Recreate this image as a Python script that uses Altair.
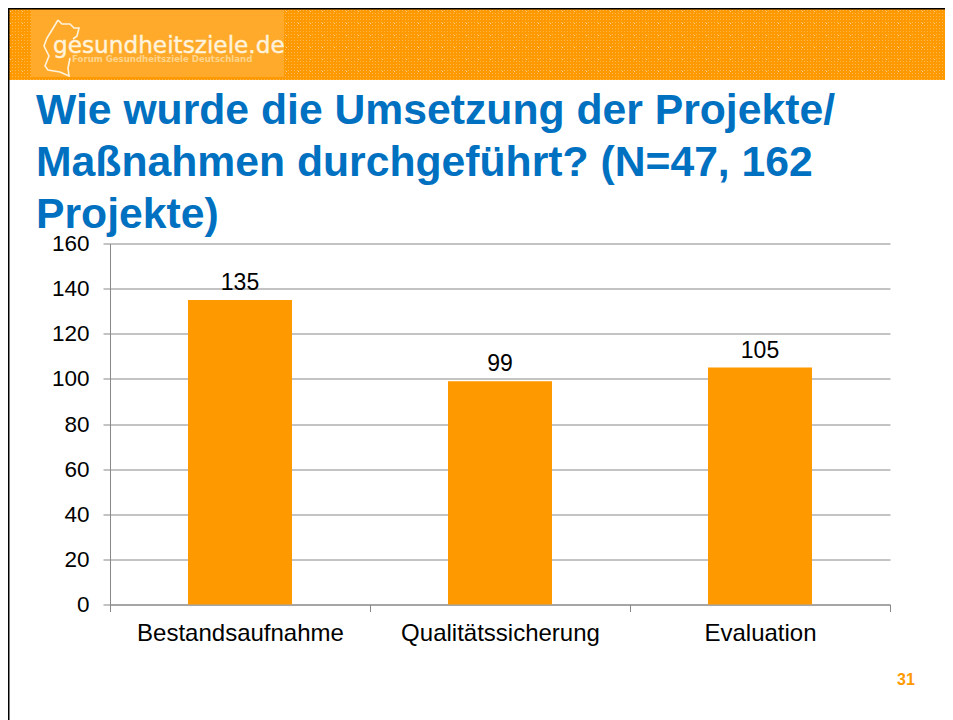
import altair as alt
import pandas as pd

categories = ["Bestandsaufnahme", "Qualitätssicherung", "Evaluation"]
values = [135, 99, 105]
y_ticks = [0, 20, 40, 60, 80, 100, 120, 140, 160]
title_lines = ["Wie wurde die Umsetzung der Projekte/", "Maßnahmen durchgeführt? (N=47, 162", "Projekte)"]
logo_text = "gesundheitsziele.de"
logo_sub = "Forum Gesundheitsziele Deutschland"
page_no = "31"

OX, OY = 110, 243.5
W, H = 780, 361
RIGHT_EDGE = 945
FONT = "Liberation Sans"
GREY = "#888888"
ORANGE = "#FF9900"


def px(v):
    return alt.value(v - OX)


def py(v):
    return alt.value(v - OY)


one = pd.DataFrame({"a": [0]})
df = pd.DataFrame({"cat": categories, "val": values})


def box(x0, x1, y0, y1, color):
    return alt.Chart(one).mark_rect(color=color).encode(x=px(x0), x2=px(x1), y=py(y0), y2=py(y1))


def label(text, x, y, **kw):
    d = pd.DataFrame({"t": [text]})
    return alt.Chart(d).mark_text(**kw).encode(x=px(x), y=py(y), text="t:N")


def dots(x0, x1, y0, y1, step, dot):
    parts = []
    for yy in range(y0, y1, step):
        for xx in range(x0, x1, step):
            parts.append(f"M{xx-OX} {yy-OY}h{dot}v{dot}h-{dot}z")
    return "".join(parts)


def path_mark(path, **kw):
    return alt.Chart(one).mark_point(shape=path, size=4, **kw).encode(x=alt.value(0), y=alt.value(0))


fine = dots(9, RIGHT_EDGE, 10, 80, 3, 1)
coarse = dots(10, RIGHT_EDGE, 11, 80, 12, 1)
germany = [(58, 20), (62, 24), (70, 24), (74, 28), (79, 28), (77, 36), (73, 39)]
germany2 = [(70, 58), (68, 68), (69, 76), (60, 72), (48, 70), (45, 66), (49, 56), (44, 46), (47, 38), (52, 30), (55, 25), (58, 20)]


def poly(pts):
    return "M" + "L".join(f"{a-OX} {b-OY}" for a, b in pts)


layers = [
    box(9, RIGHT_EDGE, 9, 80, ORANGE),
    path_mark(fine, filled=True, color="#FFFFFF", opacity=0.3, strokeWidth=0),
    path_mark(coarse, filled=True, color="#FFFFFF", opacity=0.6, strokeWidth=0),
    box(31, 284, 10, 77, "#FFAA2B"),
    path_mark(poly(germany), filled=False, color="#FFF3DC", strokeWidth=1.6, opacity=1),
    path_mark(poly(germany2), filled=False, color="#FFF3DC", strokeWidth=1.6, opacity=1),
    label(logo_text, 53, 53, font="DejaVu Sans", fontSize=23.2, color="#FFF3DC", stroke="#FFF3DC", strokeWidth=0.4, align="left", baseline="alphabetic"),
    label(logo_sub, 72, 61.5, font="DejaVu Sans", fontSize=8.6, fontWeight="bold", color="#FFD48A", align="left", baseline="alphabetic"),
    alt.Chart(one).mark_rule(color="#000000", strokeWidth=2).encode(x=px(8), x2=px(RIGHT_EDGE), y=py(8.5)),
    alt.Chart(one).mark_rule(color="#000000", strokeWidth=2).encode(x=px(8.5), y=py(8), y2=py(720)),
]
for i, line in enumerate(title_lines):
    layers.append(label(line, 36, 124 + 52 * i, font=FONT, fontSize=42.7, fontWeight="bold", color="#0070C0", align="left", baseline="alphabetic"))

x_enc = alt.X("cat:N", sort=categories, title=None, scale=alt.Scale(paddingInner=0, paddingOuter=0),
              axis=alt.Axis(tickBand="extent", labelAngle=0, labelFont=FONT, labelFontSize=24, labelColor="#000000",
                            labelPadding=10, tickSize=7, tickColor=GREY, domainColor=GREY, grid=False, labelLimit=300))
y_enc = alt.Y("val:Q", title=None, scale=alt.Scale(domain=[0, 160], nice=False),
              axis=alt.Axis(values=y_ticks, labelFont=FONT, labelFontSize=22.5, labelColor="#000000", labelPadding=14,
                            tickSize=7, tickColor=GREY, domainColor=GREY, grid=True, gridColor=GREY, gridOpacity=1))

bars = alt.Chart(df).mark_bar(size=104, color=ORANGE).encode(x=x_enc, y=y_enc)
nums = alt.Chart(df).mark_text(font=FONT, fontSize=23, color="#000000", baseline="alphabetic", dy=-10).encode(
    x=alt.X("cat:N", sort=categories), y=alt.Y("val:Q"), text="val:Q")

layers = [bars] + layers + [nums, label(page_no, 906, 685, font=FONT, fontSize=16, fontWeight="bold", color="#FF9900", align="center", baseline="alphabetic")]

chart = alt.layer(*layers).properties(
    width=W, height=H,
    autosize=alt.AutoSizeParams(type="none"),
    padding={"left": 102, "top": 235.5, "right": 55, "bottom": 115.5},
    background="#FFFFFF",
).configure_view(stroke=None)

chart.save("out.html", embed_options={"renderer": "svg", "actions": False})
